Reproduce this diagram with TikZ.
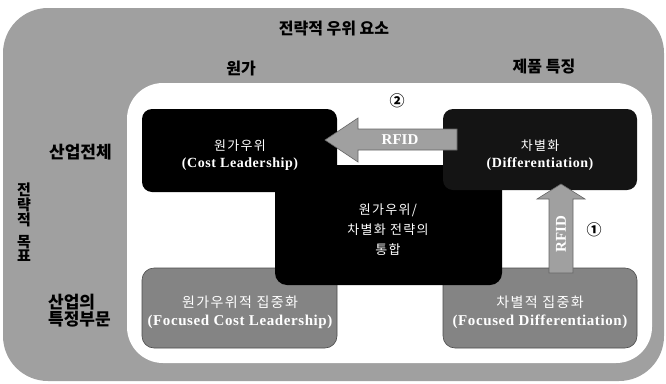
\documentclass[tikz,border=0pt]{standalone}
\usepackage{fontspec}
\setmainfont{Liberation Serif}
\newfontfamily\kr{Noto Sans CJK KR}
\newfontfamily\krsp{Noto Sans CJK KR}[LetterSpace=10]
\newfontfamily\ensp{Liberation Serif}[LetterSpace=4]
\definecolor{bggray}{RGB}{160,160,160}
\definecolor{boxgray}{RGB}{132,132,132}
\definecolor{arrgray}{RGB}{160,160,160}
\definecolor{nearblack}{RGB}{20,20,20}
\begin{document}
\begin{tikzpicture}[x=1pt,y=-1pt,
  lbl/.style={font=\kr\bfseries\fontsize{16}{18}\selectfont, inner sep=0pt},
  kbox/.style={font=\krsp\fontsize{13}{15}\selectfont, text=white, inner sep=0pt},
  kboxb/.style={font=\krsp\fontsize{14}{16}\selectfont, text=white, inner sep=0pt},
  ebox/.style={font=\ensp\bfseries\fontsize{14}{16}\selectfont, text=white, inner sep=0pt},
  eboxb/.style={font=\ensp\bfseries\fontsize{15}{17}\selectfont, text=white, inner sep=0pt},
  blackbox/.style={fill=black, rounded corners=10pt, inner sep=0pt, draw=none},
  graybox/.style={fill=boxgray, draw=black!70, line width=0.6pt, rounded corners=12pt, inner sep=0pt},
  blockarrow/.style={fill=arrgray, draw=black!60, line width=0.6pt},
  num/.style={font=\kr\bfseries\fontsize{15}{17}\selectfont, inner sep=0pt},
  rfid/.style={font=\bfseries\fontsize{15}{17}\selectfont, text=white, inner sep=0pt}]
\useasboundingbox (0,0) rectangle (666,383);
% outer background and white field
\fill[bggray, rounded corners=45pt] (3,8) rectangle (664,381);
\fill[white, rounded corners=36pt] (127,83) rectangle (652,363);
% bottom gray boxes
\node[graybox, minimum width=195pt, minimum height=80pt] (fcl) at (239.5,308) {};
\node[graybox, minimum width=194pt, minimum height=80pt] (fd) at (540,308) {};
% middle black box
\node[blackbox, rounded corners=12pt, minimum width=227pt, minimum height=120pt] (mix) at (388.5,225) {};
% top black boxes
\node[blackbox, minimum width=195pt, minimum height=83pt] (cl) at (239.5,150.5) {};
\node[blackbox, fill=nearblack, minimum width=194pt, minimum height=81pt] (dif) at (540,149.5) {};
% block arrows
\draw[blockarrow] (457,129) -- (358,129) -- (358,118) -- (325,140) -- (358,162) -- (358,150) -- (457,150) -- cycle;
\draw[blockarrow] (549,273) -- (549,199) -- (537,199) -- (561,184) -- (585,199) -- (573,199) -- (573,273) -- cycle;
\node[rfid] (r2) at (400,140) {RFID};
\node[rfid, rotate=90] (r1) at (561,234) {RFID};
\node[num] (n2) at (397,101) {②};
\node[num] (n1) at (594,230) {①};
% headings
\node[lbl] (title) at (334,29) {전략적 우위 요소};
\node[lbl] (cost) at (241,68) {원가};
\node[lbl] (feat) at (544,67) {제품 특징};
\node[lbl, font=\kr\bfseries\fontsize{17}{19}\selectfont, anchor=west] (whole) at (49,152) {산업전체};
\node[lbl, font=\kr\bfseries\fontsize{17}{19}\selectfont, anchor=west] (seg1) at (48,302) {산업의};
\node[lbl, font=\kr\bfseries\fontsize{17}{19}\selectfont, anchor=west] (seg2) at (48,319) {특정부문};
\node[lbl, font=\kr\bfseries\fontsize{15}{13.5}\selectfont, align=center] (goal) at (24,222) {전\\략\\적\\[8pt]목\\표};
% box texts
\node[kbox] (clk) at (240,146) {원가우위};
\node[ebox] (cle) at (240,164) {(Cost Leadership)};
\node[kbox] (difk) at (540,146) {차별화};
\node[ebox] (dife) at (540,164) {(Differentiation)};
\node[kbox] (mix1) at (388,210) {원가우위/};
\node[kbox] (mix2) at (388,230) {차별화 전략의};
\node[kbox] (mix3) at (388,250) {통합};
\node[kboxb] (fclk) at (240,302) {원가우위적 집중화};
\node[eboxb] (fcle) at (240,322) {(Focused Cost Leadership)};
\node[kboxb] (fdk) at (540,302) {차별적 집중화};
\node[eboxb] (fde) at (540,322) {(Focused Differentiation)};
\end{tikzpicture}
\end{document}
